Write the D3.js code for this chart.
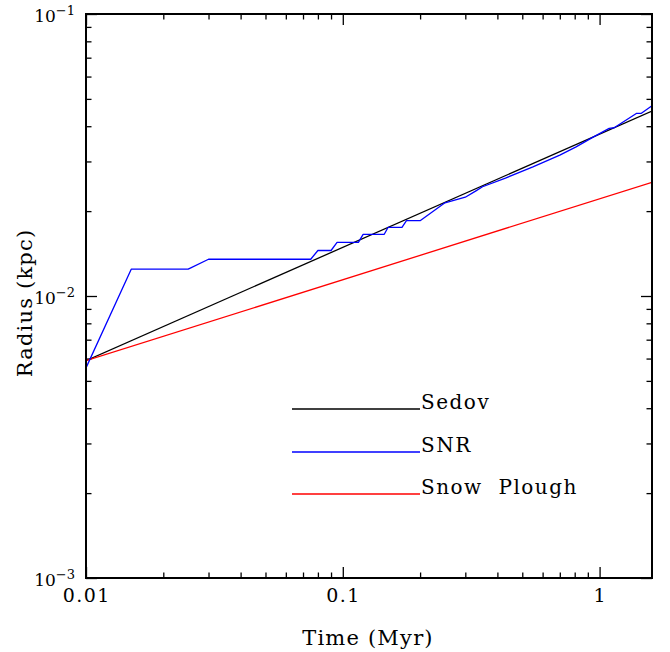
<!DOCTYPE html>
<html>
<head>
<meta charset="utf-8">
<script src="https://cdn.jsdelivr.net/npm/d3@7"></script>
<style>
  html, body { margin: 0; padding: 0; background: #fff; }
  svg { display: block; }
  text { font-family: "DejaVu Serif", "Liberation Serif", serif; fill: #000; }
</style>
</head>
<body>
<svg id="chart" width="670" height="652"></svg>
<script>
// Sedov-Taylor phase: R ~ t^(2/5), straight line in log-log space
const sedovTime   = [0.01, 1.6];
const sedovRadius = [0.0059, 0.0453];

// Pressure-driven snow plough: R ~ t^(2/7)
const snowTime   = [0.01, 1.6];
const snowRadius = [0.0059, 0.0253];

// Simulated remnant shell radius (kpc) vs time (Myr)
const snrTime = [0.01, 0.015, 0.025, 0.03, 0.075, 0.08, 0.09, 0.095, 0.115, 0.12,
                 0.145, 0.15, 0.17, 0.177, 0.2, 0.25, 0.3, 0.33, 0.35, 0.43,
                 0.55, 0.7, 0.81, 0.94, 1.09, 1.14, 1.39, 1.45, 1.6];
const snrRadius = [0.00556, 0.01245, 0.01245, 0.0135, 0.0135, 0.0145, 0.0145, 0.0155, 0.0155, 0.01655,
                   0.01655, 0.0175, 0.0175, 0.0185, 0.0185, 0.0214, 0.0224, 0.0236, 0.0244, 0.0262,
                   0.0287, 0.0316, 0.0338, 0.0365, 0.0393, 0.0395, 0.0444, 0.0444, 0.0473];

const xDomain = [0.01, 1.6];
const yDomain = [0.001, 0.1];
const xMajor = [0.01, 0.1, 1];
const xMajorLabels = ["0.01", "0.1", "1"];
const yMajor = [0.001, 0.01, 0.1];
const yMajorExp = ["-3", "-2", "-1"];

const legendNames  = ["Sedov", "SNR", "Snow  Plough"];
const legendColors = ["#000000", "#0000ff", "#ff0000"];

const W = 670, H = 652;
const m = { left: 86, right: 18, top: 14, bottom: 74 };
const pw = W - m.left - m.right, ph = H - m.top - m.bottom;

const svg = d3.select("#chart");
const g = svg.append("g").attr("transform", `translate(${m.left},${m.top})`);

const x = d3.scaleLog().domain(xDomain).range([0, pw]);
const y = d3.scaleLog().domain(yDomain).range([ph, 0]);

// minor tick values for each decade
function minorTicks(domain) {
  const out = [];
  const lo = Math.floor(Math.log10(domain[0])), hi = Math.ceil(Math.log10(domain[1]));
  for (let e = lo; e < hi; e++) {
    for (let k = 2; k <= 9; k++) {
      const v = k * Math.pow(10, e);
      if (v > domain[0] && v < domain[1]) out.push(v);
    }
  }
  return out;
}
const xMinor = minorTicks(xDomain);
const yMinor = minorTicks(yDomain);

const majorLen = 11, minorLen = 5.5;

function styleAxis(sel) {
  sel.select(".domain").remove();
  sel.selectAll(".tick line").attr("stroke", "#000").attr("stroke-width", 1.3);
  sel.selectAll(".tick text").remove();
}

// inward-pointing ticks on all four sides
g.append("g").attr("transform", `translate(0,${ph})`)
  .call(d3.axisBottom(x).tickValues(xMajor).tickSize(-majorLen)).call(styleAxis);
g.append("g").attr("transform", `translate(0,${ph})`)
  .call(d3.axisBottom(x).tickValues(xMinor).tickSize(-minorLen)).call(styleAxis);
g.append("g")
  .call(d3.axisTop(x).tickValues(xMajor).tickSize(-majorLen)).call(styleAxis);
g.append("g")
  .call(d3.axisTop(x).tickValues(xMinor).tickSize(-minorLen)).call(styleAxis);
g.append("g")
  .call(d3.axisLeft(y).tickValues(yMajor).tickSize(-majorLen)).call(styleAxis);
g.append("g")
  .call(d3.axisLeft(y).tickValues(yMinor).tickSize(-minorLen)).call(styleAxis);
g.append("g").attr("transform", `translate(${pw},0)`)
  .call(d3.axisRight(y).tickValues(yMajor).tickSize(-majorLen)).call(styleAxis);
g.append("g").attr("transform", `translate(${pw},0)`)
  .call(d3.axisRight(y).tickValues(yMinor).tickSize(-minorLen)).call(styleAxis);

// tick labels
g.selectAll(".xlab").data(xMajor).enter().append("text")
  .attr("class", "xlab")
  .attr("x", d => x(d) + 0.7).attr("y", ph + 24)
  .attr("text-anchor", "middle").attr("font-size", 19)
  .attr("letter-spacing", 1.4)
  .text((d, i) => xMajorLabels[i]);

const ylab = g.selectAll(".ylab").data(yMajor).enter().append("text")
  .attr("class", "ylab")
  .attr("x", -11).attr("y", d => y(d) + 7.5)
  .attr("text-anchor", "end").attr("font-size", 17);
ylab.append("tspan").text("10");
ylab.append("tspan").attr("dy", -7).attr("font-size", 13).text((d, i) => yMajorExp[i].replace("-", "\u2212"));

// data curves
g.append("clipPath").attr("id", "plotclip")
  .append("rect").attr("width", pw).attr("height", ph);

const line = d3.line().x(d => x(d[0])).y(d => y(d[1]));
const curves = [
  { t: sedovTime, r: sedovRadius, c: legendColors[0] },
  { t: snowTime, r: snowRadius, c: legendColors[2] },
  { t: snrTime, r: snrRadius, c: legendColors[1] }
];
const plot = g.append("g").attr("clip-path", "url(#plotclip)");
curves.forEach(cv => {
  plot.append("path")
    .datum(cv.t.map((t, i) => [t, cv.r[i]]))
    .attr("d", line)
    .attr("fill", "none")
    .attr("stroke", cv.c)
    .attr("stroke-width", 1.3)
    .attr("stroke-linejoin", "round");
});

// frame
g.append("rect").attr("width", pw).attr("height", ph)
  .attr("fill", "none").attr("stroke", "#000").attr("stroke-width", 2);

// legend
const legY = [409, 452, 494];
const leg = svg.append("g");
legendNames.forEach((name, i) => {
  leg.append("line")
    .attr("x1", 292).attr("x2", 420)
    .attr("y1", legY[i]).attr("y2", legY[i])
    .attr("stroke", legendColors[i]).attr("stroke-width", 1.3);
  leg.append("text")
    .attr("x", 421).attr("y", legY[i])
    .attr("font-size", 20)
    .attr("letter-spacing", 1.5)
    .style("white-space", "pre")
    .text(name);
});

// axis titles
svg.append("text")
  .attr("x", m.left + pw / 2 - 1).attr("y", 645)
  .attr("text-anchor", "middle").attr("font-size", 21)
  .attr("letter-spacing", 1.2)
  .text("Time (Myr)");
svg.append("text")
  .attr("transform", `translate(32,${m.top + ph / 2 + 7}) rotate(-90)`)
  .attr("text-anchor", "middle").attr("font-size", 21)
  .attr("letter-spacing", 1.2)
  .text("Radius (kpc)");
</script>
</body>
</html>
